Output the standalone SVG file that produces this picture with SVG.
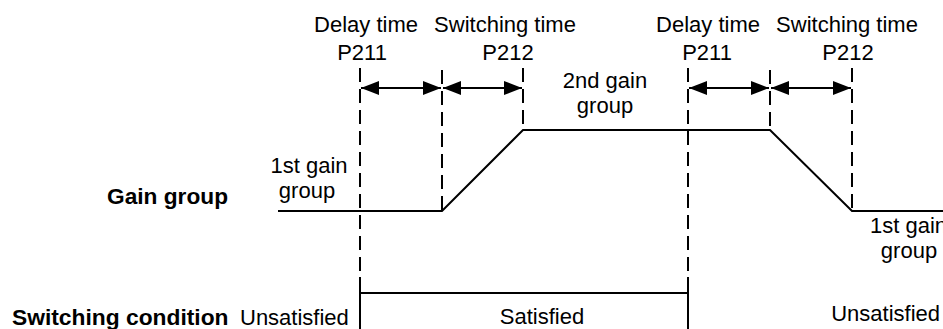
<svg xmlns="http://www.w3.org/2000/svg" width="943" height="329" viewBox="0 0 943 329">
<style>
text{font-family:"Liberation Sans",Arial,sans-serif;font-size:22px;fill:#000}
.b{font-weight:bold}
.m{text-anchor:middle}
.e{text-anchor:end}
.s{stroke:#000;stroke-width:2;fill:none}
.d{stroke:#000;stroke-width:2;fill:none;stroke-dasharray:14 7}
.a{stroke:#000;stroke-width:2;fill:none;marker-start:url(#ah);marker-end:url(#ah)}
</style>
<defs>
<marker id="ah" markerUnits="userSpaceOnUse" markerWidth="18" markerHeight="14" refX="18" refY="7" orient="auto-start-reverse">
<path d="M0,0 L18,7 L0,14 z" fill="#000"/>
</marker>
</defs>
<rect width="943" height="329" fill="#fff"/>
<g id="labels">
<text x="366" y="32" class="m">Delay time</text>
<text x="362" y="60" class="m">P211</text>
<text x="505" y="32" class="m">Switching time</text>
<text x="508" y="60" class="m">P212</text>
<text x="708" y="32" class="m">Delay time</text>
<text x="707" y="60" class="m">P211</text>
<text x="847" y="32" class="m">Switching time</text>
<text x="848" y="60" class="m">P212</text>
<text x="605" y="88" class="m">2nd gain</text>
<text x="605" y="113" class="m">group</text>
<text x="309" y="173" class="m">1st gain</text>
<text x="307" y="198" class="m">group</text>
<text x="870" y="233">1st gain</text>
<text x="909" y="258" class="m">group</text>
<text x="228" y="204" class="b e" style="font-size:22.7px">Gain group</text>
<text x="12" y="325" class="b" style="font-size:22.8px">Switching condition</text>
<text x="240" y="325">Unsatisfied</text>
<text x="542" y="324" class="m">Satisfied</text>
<text x="940" y="321" class="e">Unsatisfied</text>
</g>
<g id="guides">
<line class="d" x1="360" y1="68" x2="360" y2="277"/>
<line class="s" x1="360" y1="277" x2="360" y2="329"/>
<line class="d" x1="442" y1="70" x2="442" y2="211"/>
<line class="d" x1="523" y1="68" x2="523" y2="130"/>
<line class="d" x1="688" y1="68" x2="688" y2="277"/>
<line class="s" x1="688" y1="277" x2="688" y2="329"/>
<line class="d" x1="770" y1="70" x2="770" y2="130"/>
<line class="d" x1="852" y1="68" x2="852" y2="211"/>
</g>
<g id="connectors">
<line class="a" x1="361" y1="88" x2="441" y2="88"/>
<line class="a" x1="443" y1="88" x2="522" y2="88"/>
<line class="a" x1="689" y1="88" x2="769" y2="88"/>
<line class="a" x1="771" y1="88" x2="851" y2="88"/>
</g>
<g id="gain-curve">
<polyline class="s" points="278,211 442,211 523,130 770,130 852,211 943,211"/>
</g>
<g id="condition">
<line class="s" x1="360" y1="293" x2="688" y2="293"/>
</g>
</svg>
